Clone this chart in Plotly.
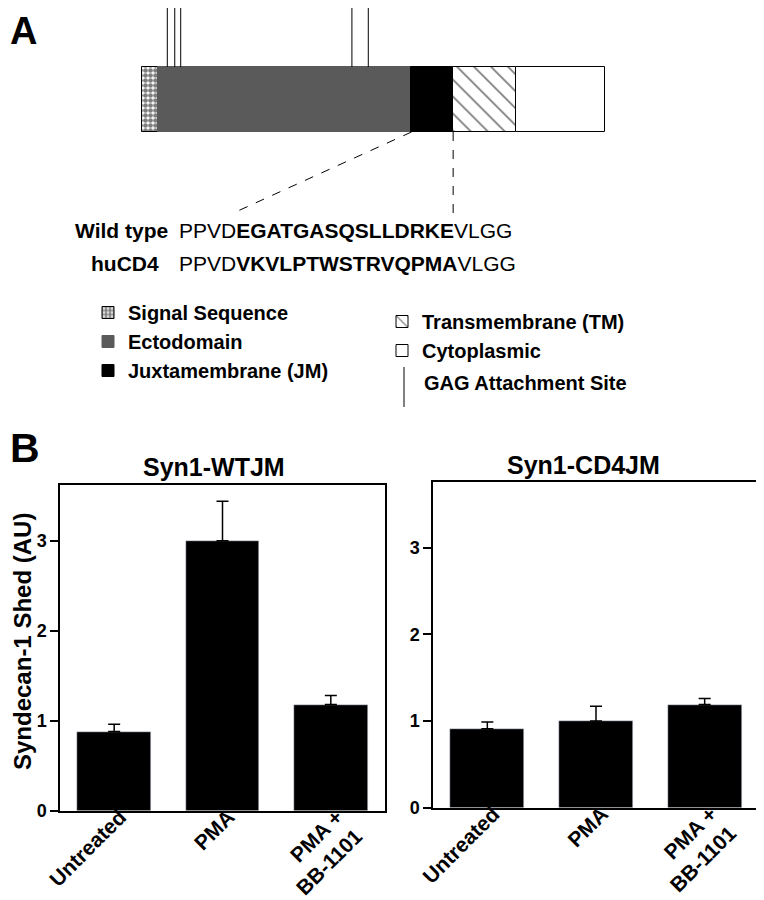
import plotly.graph_objects as go

# ---------------- panel A : syndecan-1 domain map ----------------
domain_names = ["Signal Sequence", "Ectodomain", "Juxtamembrane (JM)",
                "Transmembrane (TM)", "Cytoplasmic"]
domain_start = [0, 11, 181, 209, 251]
domain_end = [11, 181, 209, 251, 311]
gag_sites = [17, 22, 26, 141, 152]

wt_label = "Wild type"
cd4_label = "huCD4"
wt_seq = "PPVD<b>EGATGASQSLLDRKE</b>VLGG"
cd4_seq = "PPVD<b>VKVLPTWSTRVQPMA</b>VLGG"

# dashed links from the JM box down to the sequence (x in residues, y in bar heights)
link_x = [181, 61, None, 209, 209]
link_y = [0, -1.25, None, 0, -1.31]

# ---------------- panel B : shedding ----------------
treatments = ["Untreated", "PMA", "PMA +<br>BB-1101"]
wtjm_shed = [0.88, 3.0, 1.18]
wtjm_err = [0.08, 0.44, 0.10]
cd4jm_shed = [0.91, 1.0, 1.19]
cd4jm_err = [0.08, 0.17, 0.07]

FONT = "Liberation Sans, Arial, Helvetica, sans-serif"
W, H = 764, 900
OFF = 8  # page body margin

def px(v):
    return (v - OFF) / W

def py(v):
    return 1 - (v - OFF) / H

fig = go.Figure()

# domain bar (x3/y3 covers the whole page, used only for the schematic)
styles = [
    dict(color="white", line=dict(color="black", width=1),
         pattern=dict(shape=".", fgcolor="black", bgcolor="white", size=5, solidity=0.7)),
    dict(color="#5a5a5a", line=dict(color="#5a5a5a", width=1)),
    dict(color="black", line=dict(color="black", width=1)),
    dict(color="white", line=dict(color="black", width=1),
         pattern=dict(shape="\\", fgcolor="black", bgcolor="white", size=12, solidity=0.15)),
    dict(color="white", line=dict(color="black", width=1)),
]
for i, name in enumerate(domain_names):
    fig.add_trace(go.Bar(
        y=[0.5], x=[domain_end[i] - domain_start[i]], base=[domain_start[i]],
        orientation="h", width=1, name=name, marker=styles[i],
        xaxis="x3", yaxis="y3", legendgroup=name,
        legend="legend" if i < 3 else "legend2", hoverinfo="skip"))

gx, gy = [], []
for s in gag_sites:
    gx += [s, s, None]
    gy += [1, 1.92, None]
fig.add_trace(go.Scatter(x=gx, y=gy, mode="lines", line=dict(color="black", width=1),
                         xaxis="x3", yaxis="y3", showlegend=False, hoverinfo="skip"))
fig.add_trace(go.Scatter(x=link_x, y=link_y, mode="lines",
                         line=dict(color="black", width=1, dash="dash"),
                         xaxis="x3", yaxis="y3", showlegend=False, hoverinfo="skip"))

# bar charts
err = dict(type="data", symmetric=False, color="black", thickness=1.5, width=6)
fig.add_trace(go.Bar(x=treatments, y=wtjm_shed, width=0.68, marker_color="black",
                     error_y=dict(err, array=wtjm_err, arrayminus=[0, 0, 0]),
                     showlegend=False, xaxis="x", yaxis="y"))
fig.add_trace(go.Bar(x=treatments, y=cd4jm_shed, width=0.68, marker_color="black",
                     error_y=dict(err, array=cd4jm_err, arrayminus=[0, 0, 0]),
                     showlegend=False, xaxis="x2", yaxis="y2"))

aa_px = 463 / 311
bar_px = 65
axis_common = dict(showline=True, mirror=True, linecolor="black", linewidth=1.5,
                   showgrid=False, zeroline=False, automargin=False)
xcommon = dict(axis_common, ticks="", tickangle=-45, ticklabelstandoff=-16,
               ticklabelshift=6,
               tickfont=dict(family=FONT, size=21, color="black", weight="bold"))
ycommon = dict(axis_common, ticks="outside", ticklen=8, tickwidth=1.5, tickcolor="black",
               tickvals=[0, 1, 2, 3],
               tickfont=dict(family=FONT, size=18, color="black", weight="bold"))

# page x,y -> schematic axis units
x3_lo = (OFF - 142) / aa_px
x3_hi = (OFF + W - 142) / aa_px
y3_hi = (132 - OFF) / bar_px
y3_lo = (132 - OFF - H) / bar_px

fig.update_layout(
    width=W, height=H, margin=dict(l=0, r=0, t=0, b=0, autoexpand=False),
    paper_bgcolor="white", plot_bgcolor="rgba(0,0,0,0)",
    barmode="overlay", bargap=0,
    font=dict(family=FONT, color="black"),
    xaxis=dict(xcommon, domain=[px(60), px(385)], anchor="y"),
    yaxis=dict(ycommon, domain=[py(810.7), py(485)], range=[0, 3.62], anchor="x"),
    xaxis2=dict(xcommon, domain=[px(433), px(759)], anchor="y2"),
    yaxis2=dict(ycommon, domain=[py(807.7), py(482)], range=[0, 3.76], anchor="x2"),
    xaxis3=dict(domain=[0, 1], range=[x3_lo, x3_hi], visible=False,
                anchor="y3", fixedrange=True, automargin=False),
    yaxis3=dict(domain=[0, 1], range=[y3_lo, y3_hi], visible=False,
                anchor="x3", fixedrange=True, automargin=False),
    legend=dict(x=px(88), y=py(293), xanchor="left", yanchor="top",
                font=dict(family=FONT, size=20, color="black", weight="bold"),
                tracegroupgap=0, bgcolor="rgba(0,0,0,0)"),
    legend2=dict(x=px(382), y=py(302), xanchor="left", yanchor="top",
                 font=dict(family=FONT, size=20, color="black", weight="bold"),
                 tracegroupgap=0, bgcolor="rgba(0,0,0,0)"),
)

ann = []
def text(x, y, t, size, bold=True, xanchor="center", angle=0):
    ann.append(dict(x=px(x), y=py(y), xref="paper", yref="paper", text=t, showarrow=False,
                    xanchor=xanchor, yanchor="middle", textangle=angle,
                    font=dict(family=FONT, size=size, color="black",
                              weight="bold" if bold else "normal")))

text(8, 31, "A", 38, xanchor="left")
text(8, 448, "B", 41, xanchor="left")
text(121, 230, wt_label, 21)
text(125, 263, cd4_label, 21)
text(177, 230, wt_seq, 21, bold=False, xanchor="left")
text(177, 263, cd4_seq, 21, bold=False, xanchor="left")
text(422, 383, "GAG Attachment Site", 20, xanchor="left")
text(214, 467, "Syn1-WTJM", 25)
text(583, 465, "Syn1-CD4JM", 25)
text(22, 642, "Syndecan-1 Shed (AU)", 24, angle=-90)
fig.update_layout(annotations=ann)

fig.add_shape(type="line", xref="paper", yref="paper", x0=px(404), x1=px(404),
              y0=py(367), y1=py(407), line=dict(color="black", width=1))

fig.write_html("out.html")
